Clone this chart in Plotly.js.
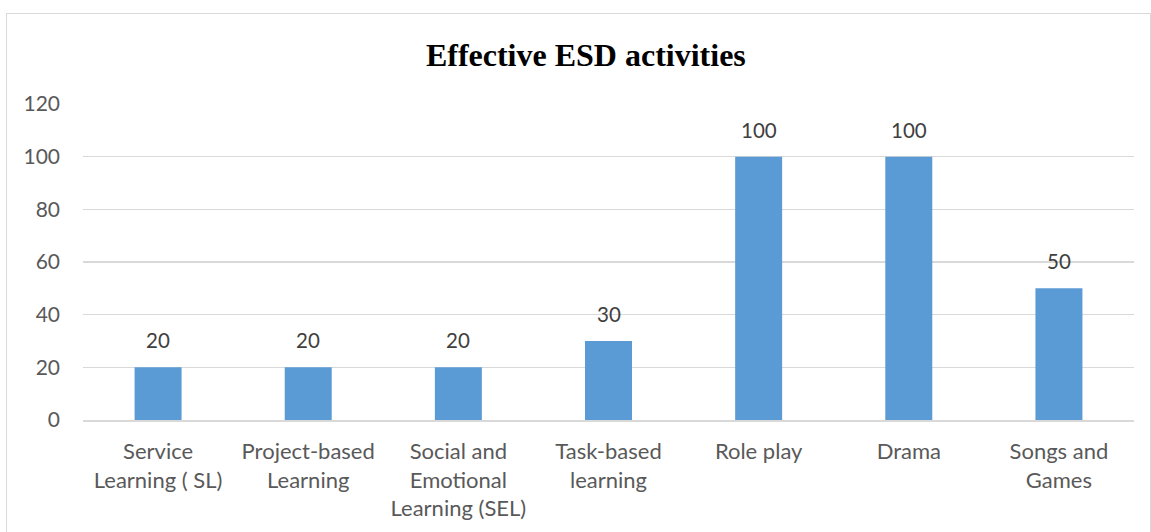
<!DOCTYPE html>
<html><head><meta charset="utf-8">
<script src="https://cdn.plot.ly/plotly-3.0.1.min.js"></script>
<style>
html,body{margin:0;padding:0;background:#fff;}
#wrap{position:relative;width:1151px;height:532px;}
#frame{position:absolute;left:6px;top:13px;width:1143px;height:540px;border:1.5px solid #d9d9d9;pointer-events:none;}
</style></head>
<body><div id="wrap"><div id="chart" style="width:1151px;height:532px;"></div><div id="frame"></div></div>
<script>
const categories = ["Service<br>Learning ( SL)", "Project-based<br>Learning", "Social and<br>Emotional<br>Learning (SEL)", "Task-based<br>learning", "Role play", "Drama", "Songs and<br>Games"];
const values = [20, 20, 20, 30, 100, 100, 50];
const yTicks = [0, 20, 40, 60, 80, 100, 120];
const titleText = "Effective ESD activities";

const font = "Lato, 'Open Sans', sans-serif";
const trace = {
  type: 'bar', x: categories, y: values,
  marker: {color: '#5B9BD5'}, hoverinfo: 'none'
};
const annotations = categories.map((c, i) => ({
  x: c, y: values[i], xref: 'x', yref: 'y', text: String(values[i]),
  showarrow: false, yanchor: 'bottom', yshift: 13,
  font: {family: font, size: 20.5, color: '#404040'}
}));
const layout = {
  width: 1151, height: 532,
  margin: {l: 83, r: 17, t: 104, b: 112},
  paper_bgcolor: '#fff', plot_bgcolor: '#fff',
  title: {text: '<b>' + titleText + '</b>', x: 0.509, xanchor: 'center', y: 0.897, yanchor: 'middle',
    font: {family: "'Liberation Serif', 'Times New Roman', serif", size: 32, color: '#000'}},
  bargap: 0.687,
  showlegend: false,
  xaxis: {showgrid: false, showline: true, linecolor: '#d9d9d9', linewidth: 1.5,
    tickfont: {family: font, size: 22, color: '#595959'}, ticks: '', ticklabelstandoff: 11, fixedrange: true},
  yaxis: {range: [0, 120], tickvals: yTicks, ticktext: yTicks.map(String), showgrid: true, gridcolor: '#d9d9d9', gridwidth: 1.5,
    zeroline: false, showline: false, ticks: '', ticklabelstandoff: 22,
    tickfont: {family: font, size: 21, color: '#595959'}, fixedrange: true},
  annotations: annotations
};
Plotly.newPlot('chart', [trace], layout, {displayModeBar: false, staticPlot: true});
</script></body></html>
